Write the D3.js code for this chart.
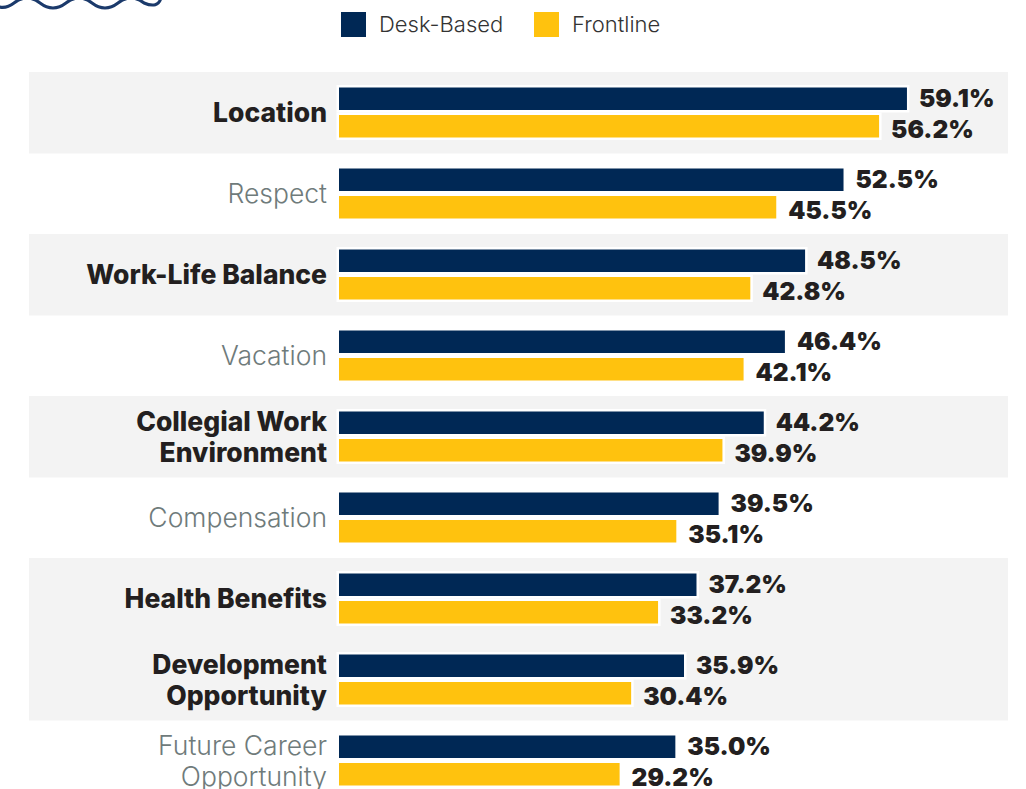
<!DOCTYPE html>
<html>
<head>
<meta charset="utf-8">
<script src="https://cdn.jsdelivr.net/npm/d3@7"></script>
<style>
  html, body { margin: 0; padding: 0; background: #fff; }
  svg { display: block; }
</style>
</head>
<body>
<svg id="chart" width="1026" height="789"></svg>
<script>
// ---- data ----
const categories = [
  ["Location"],
  ["Respect"],
  ["Work-Life Balance"],
  ["Vacation"],
  ["Collegial Work", "Environment"],
  ["Compensation"],
  ["Health Benefits"],
  ["Development", "Opportunity"],
  ["Future Career", "Opportunity"]
];
const highlighted = [true, false, true, false, true, false, true, true, false];
const deskBased = [59.1, 52.5, 48.5, 46.4, 44.2, 39.5, 37.2, 35.9, 35.0];
const frontline = [56.2, 45.5, 42.8, 42.1, 39.9, 35.1, 33.2, 30.4, 29.2];
const seriesNames = ["Desk-Based", "Frontline"];
const seriesColors = ["#002855", "#FFC20E"];

// ---- layout ----
const svg = d3.select("#chart");
const keys = categories.map(c => c.join(" "));
const x = d3.scaleLinear().domain([0, 60]).range([339, 339 + 60 * 9.61]);
const y = d3.scaleBand().domain(keys).range([72, 72 + 81 * 9]).paddingInner(0);
const barH = 22.5, gap = 5;

const FONT = "Inter, 'Noto Sans', sans-serif";

// decorative wave top-left
const wave = d3.path();
wave.moveTo(-12, 0);
for (let i = 0; i < 6; i++) {
  const sx = -12 + i * 26;
  wave.quadraticCurveTo(sx + 13, i % 2 === 0 ? 13 : -7, sx + 26, 3);
}
wave.quadraticCurveTo(158, 9, 161, -2);
svg.append("path").attr("d", wave.toString())
  .attr("fill", "none").attr("stroke", "#1b3a6b").attr("stroke-width", 3);

// legend
const legend = svg.append("g");
const legendX = [341, 534];
seriesNames.forEach((name, i) => {
  legend.append("rect").attr("x", legendX[i]).attr("y", 12).attr("width", 25).attr("height", 25)
    .attr("fill", seriesColors[i]);
  legend.append("text").attr("x", legendX[i] + 38).attr("y", 32)
    .attr("font-family", FONT).attr("font-weight", 300).attr("font-size", 22)
    .attr("fill", "#333").text(name);
});

// background bands
svg.append("g").selectAll("rect")
  .data(keys.filter((k, i) => highlighted[i]))
  .join("rect")
  .attr("x", 29).attr("width", 1008 - 29)
  .attr("y", d => y(d)).attr("height", y.bandwidth() + 0.5)
  .attr("fill", "#f3f3f3");

// bars
const rows = keys.map((k, i) => ({ key: k, lines: categories[i], hi: highlighted[i], vals: [deskBased[i], frontline[i]] }));
const g = svg.append("g");
rows.forEach(r => {
  const cy = y(r.key) + y.bandwidth() / 2;
  r.vals.forEach((v, j) => {
    const top = j === 0 ? cy - gap / 2 - barH : cy + gap / 2;
    g.append("rect").attr("x", x(0) - 2.5).attr("y", top - 2.5)
      .attr("width", x(v) - x(0) + 5).attr("height", barH + 5).attr("fill", "#fff");
    g.append("rect").attr("x", x(0)).attr("y", top)
      .attr("width", x(v) - x(0)).attr("height", barH).attr("fill", seriesColors[j]);
    g.append("text").attr("x", x(v) + 12).attr("y", top + (j === 0 ? 19.5 : 22.5))
      .attr("font-family", FONT).attr("font-weight", 900).attr("font-size", 24.5)
      .attr("fill", "#231f20").text(d3.format(".1f")(v) + "%");
  });
  // category label
  const t = g.append("text").attr("text-anchor", "end")
    .attr("font-family", FONT)
    .attr("font-weight", r.hi ? 800 : 300)
    .attr("font-size", 26.5)
    .attr("fill", r.hi ? "#231f20" : "#6f7b7b");
  const lh = 31;
  const n = r.lines.length;
  r.lines.forEach((line, li) => {
    t.append("tspan").attr("x", 327)
      .attr("y", cy + 9.5 + (li - (n - 1) / 2) * lh)
      .text(line);
  });
});
</script>
</body>
</html>
